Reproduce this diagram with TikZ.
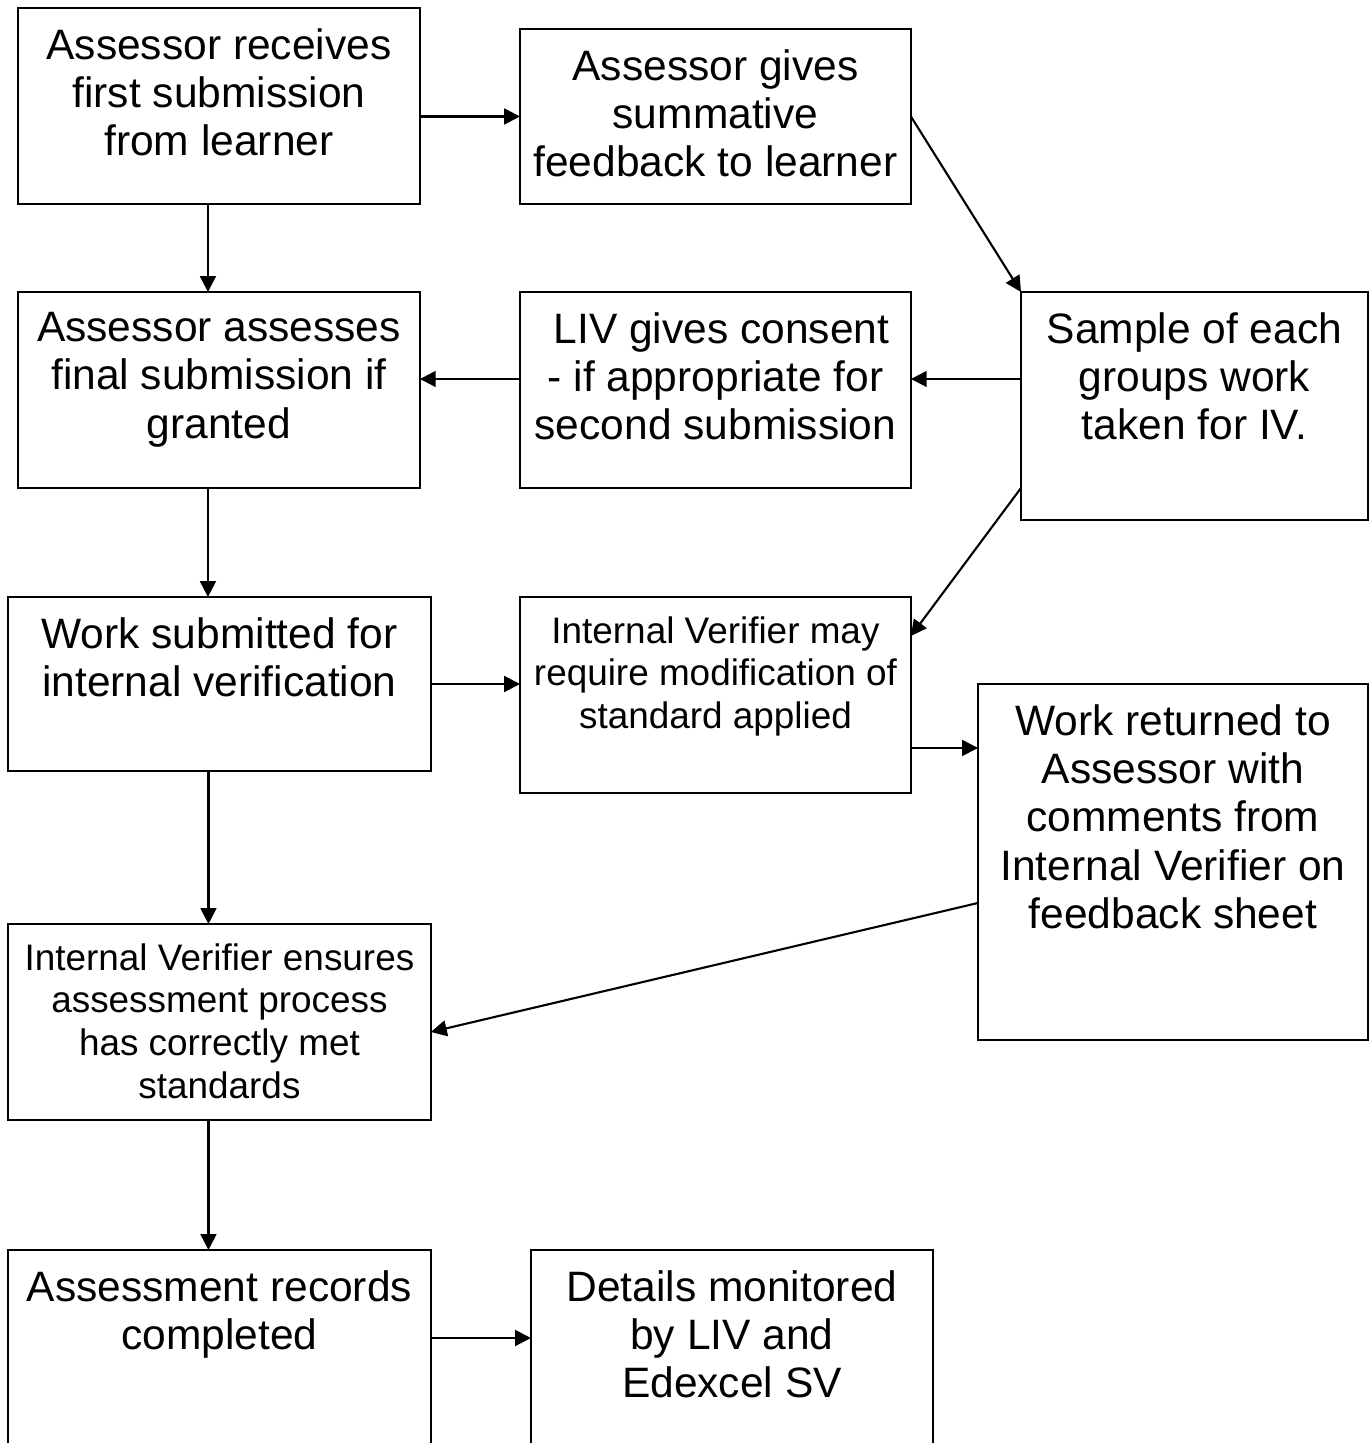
\documentclass[tikz,border=0pt]{standalone}
\usepackage{fontspec}
\setmainfont{Liberation Sans}
\usepackage{tikz}
\usetikzlibrary{arrows.meta, positioning, calc}
\newcommand{\bigtxt}{\fontsize{24.2}{27.5}\selectfont}
\newcommand{\smalltxt}{\fontsize{21}{24.4}\selectfont}

\begin{document}
\begin{tikzpicture}[x=0.02cm, y=-0.02cm,
    box/.style={draw, line width=1.3pt, rectangle, anchor=north west, inner sep=0pt, outer sep=0pt},
    txt/.style={anchor=north, align=center, inner sep=0pt, font=\bigtxt},
    smalltxt/.style={txt, font=\smalltxt},
    arr/.style={line width=1.2pt, -{Triangle[length=9pt, width=9pt]}}]
    \useasboundingbox[fill=white] (0,0) rectangle (1370,1443);

    % Boxes
    \node[box, minimum width=8.04cm, minimum height=3.92cm] (recv) at (18,8) {};
    \node[box, minimum width=7.82cm, minimum height=3.5cm] (summ) at (520,29) {};
    \node[box, minimum width=8.04cm, minimum height=3.92cm] (final) at (18,292) {};
    \node[box, minimum width=7.82cm, minimum height=3.92cm] (consent) at (520,292) {};
    \node[box, minimum width=6.94cm, minimum height=4.56cm] (sample) at (1021,292) {};
    \node[box, minimum width=8.46cm, minimum height=3.48cm] (submit) at (8,597) {};
    \node[box, minimum width=7.82cm, minimum height=3.92cm] (modif) at (520,597) {};
    \node[box, minimum width=7.8cm, minimum height=7.12cm] (return) at (978,684) {};
    \node[box, minimum width=8.46cm, minimum height=3.92cm] (ensure) at (8,924) {};
    \node[box, minimum width=8.46cm, minimum height=4.4cm] (records) at (8,1250) {};
    \node[box, minimum width=8.04cm, minimum height=4.4cm] (monitor) at (531,1250) {};

    % Texts
    \node[txt] (recvtxt) at ($(recv.north)+(0,20)$) {Assessor receives\\first submission\\from learner};
    \node[txt] (summtxt) at ($(summ.north)+(0,20)$) {Assessor gives\\summative\\feedback to learner};
    \node[txt] (finaltxt) at ($(final.north)+(0,20)$) {Assessor assesses\\final submission if\\granted};
    \node[txt] (consenttxt) at ($(consent.north)+(0,20)$) {\ LIV gives consent\\- if appropriate for\\second submission};
    \node[txt] (sampletxt) at ($(sample.north)+(0,20)$) {Sample of each\\groups work\\taken for IV.};
    \node[txt] (submittxt) at ($(submit.north)+(0,20)$) {Work submitted for\\internal verification};
    \node[smalltxt] (modiftxt) at ($(modif.north)+(0,19)$) {Internal Verifier may\\require modification of\\standard applied};
    \node[txt] (returntxt) at ($(return.north)+(0,20)$) {Work returned to\\Assessor with\\comments from\\Internal Verifier on\\feedback sheet};
    \node[smalltxt] (ensuretxt) at ($(ensure.north)+(0,19)$) {Internal Verifier ensures\\assessment process\\has correctly met\\standards};
    \node[txt] (recordstxt) at ($(records.north)+(0,20)$) {Assessment records\\completed};
    \node[txt] (monitortxt) at ($(monitor.north)+(0,20)$) {Details monitored\\by LIV and\\Edexcel SV};

    % Arrow ends
    \coordinate (recvout) at ($(recv.south)+(-11,0)$);
    \coordinate (finalout) at ($(final.south)+(-11,0)$);
    \coordinate (submitout) at ($(submit.south)+(-11,0)$);
    \coordinate (ensureout) at ($(ensure.south)+(-11,0)$);
    \coordinate (livin) at ($(consent.east)+(0,-11)$);
    \coordinate (livout) at ($(consent.west)+(0,-11)$);
    \coordinate (modout) at ($(modif.south east)+(0,-45)$);
    \coordinate (recout) at ($(records.north east)+(0,88)$);

    % Arrows
    \draw[arr] (recv.east |- summ.west) -- (summ.west);
    \draw[arr] (recvout) -- (recvout |- final.north);
    \draw[arr] (summ.east) -- (sample.north west);
    \draw[arr] (livin -| sample.west) -- (livin);
    \draw[arr] (livout) -- (livout -| final.east);
    \draw[arr] (finalout) -- (finalout |- submit.north);
    \draw[arr] ($(sample.south west)+(0,-32)$) -- ($(modif.north east)+(0,39)$);
    \draw[arr] (submit.east) -- (submit.east -| modif.west);
    \draw[arr] (modout) -- (modout -| return.west);
    \draw[arr] (submitout) -- (submitout |- ensure.north);
    \draw[arr] ($(return.west)+(0,41)$) -- ($(ensure.east)+(0,10)$);
    \draw[arr] (ensureout) -- (ensureout |- records.north);
    \draw[arr] (recout) -- (recout -| monitor.west);
\end{tikzpicture}
\end{document}
